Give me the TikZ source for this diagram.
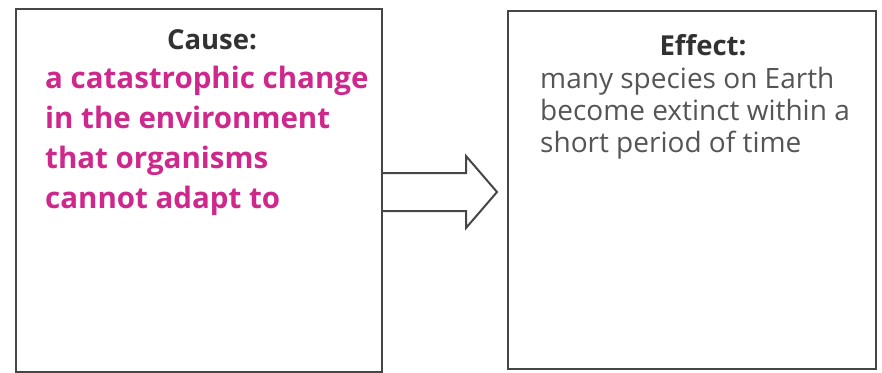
\documentclass[tikz,border=0pt]{standalone}
\usepackage{fontspec}
\setmainfont{Open Sans}[Ligatures=NoCommon]
\definecolor{boxline}{RGB}{70,70,70}
\definecolor{magentatext}{RGB}{206,40,140}
\definecolor{graytext}{RGB}{85,85,85}
\definecolor{headtext}{RGB}{50,50,50}
\begin{document}
\begin{tikzpicture}[x=1pt,y=1pt,
  box/.style={draw=boxline,line width=2pt,anchor=north west,inner sep=0pt},
  heading/.style={font=\fontsize{27.5}{30}\selectfont\bfseries,text=headtext,anchor=base,inner sep=0pt},
  causetext/.style={font=\fontsize{29.5}{40}\selectfont\bfseries,text=magentatext,align=left,anchor=base west,inner sep=0pt},
  effecttext/.style={font=\fontsize{28}{32}\selectfont,text=graytext,align=left,anchor=base west,inner sep=0pt},
  blockarrow/.style={draw=boxline,line width=2pt,line join=miter}]
\useasboundingbox (0,0) rectangle (882,-372);
\node[box,minimum width=366pt,minimum height=363pt] (cause) at (15,-8) {};
\node[box,minimum width=368pt,minimum height=358pt] (effect) at (507,-10) {};
\node[heading] (causehead) at (212,-49) {Cause:};
\node[heading] (effecthead) at (703,-55) {Effect:};
\node[causetext] (causebody) at (45,-208) {a catastrophic change\\in the environment\\that organisms\\cannot adapt to};
\node[effecttext] (effectbody) at (540,-152) {many species on Earth\\become extinct within a\\short period of time};
\coordinate (as) at (cause.north east |- 0,-173);
\draw[blockarrow] (as) -- (466,-173) -- (466,-156) -- (497,-192) -- (466,-228) -- (466,-211) -- (cause.north east |- 0,-211);
\end{tikzpicture}
\end{document}
